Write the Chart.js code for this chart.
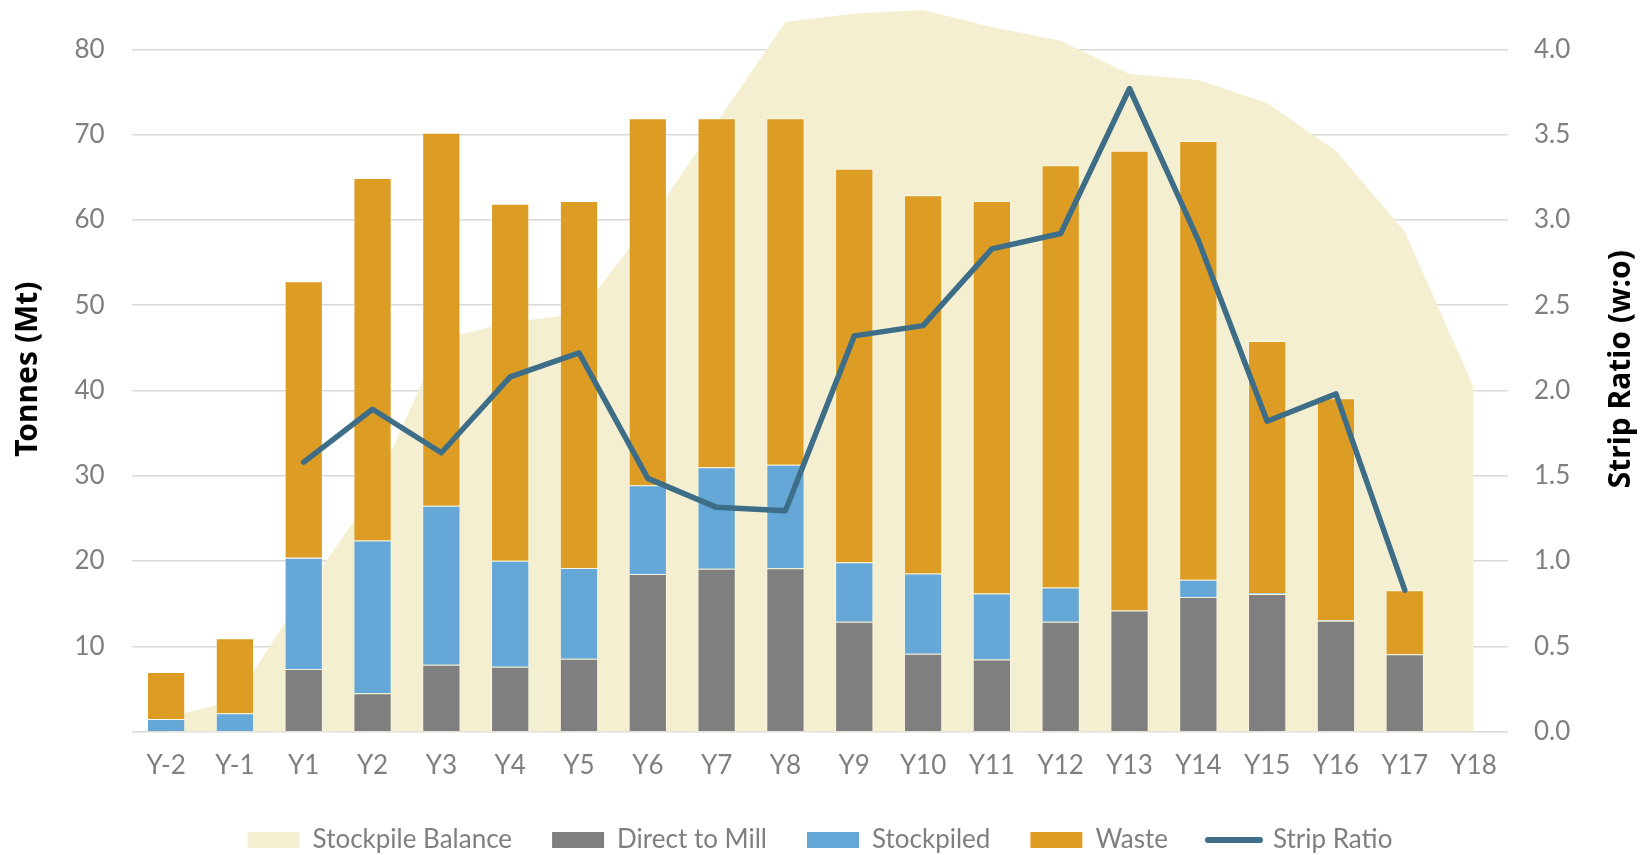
<!DOCTYPE html>
<html>
<head>
<meta charset="utf-8">
<title>Mine schedule</title>
<script src="https://cdn.jsdelivr.net/npm/chart.js@4.4.1/dist/chart.umd.min.js"></script>
<style>
  html, body { margin: 0; padding: 0; background: #fff; }
  #wrap { width: 1640px; height: 855px; position: relative; }
</style>
</head>
<body>
<div id="wrap"><canvas id="chart_wrap"></canvas></div>
<script>
const years = ['Y-2', 'Y-1', 'Y1', 'Y2', 'Y3', 'Y4', 'Y5', 'Y6', 'Y7', 'Y8', 'Y9',
  'Y10', 'Y11', 'Y12', 'Y13', 'Y14', 'Y15', 'Y16', 'Y17', 'Y18'];

// tonnes (Mt)
const stockpileBalance = [1.6, 3.7, 16.2, 27.9, 46.0, 48.0, 49.0, 59.5, 71.4, 83.2, 84.2,
  84.6, 82.6, 81.0, 77.1, 76.4, 73.7, 68.1, 58.6, 40.4];
const directToMill = [0, 0, 7.35, 4.5, 7.85, 7.6, 8.55, 18.5, 19.1, 19.15, 12.9,
  9.15, 8.45, 12.9, 14.2, 15.8, 16.15, 13.0, 9.07, null];
const stockpiled = [1.49, 2.15, 13.05, 17.9, 18.65, 12.45, 10.65, 10.4, 11.9, 12.15, 6.95,
  9.4, 7.75, 4.0, 0, 2.0, 0.1, 0.1, 0, null];
const waste = [5.5, 8.8, 32.4, 42.5, 43.7, 41.85, 43.0, 43.0, 40.9, 40.6, 46.15,
  44.35, 46.0, 49.5, 53.9, 51.45, 29.55, 26.0, 7.5, null];

// strip ratio (w:o)
const stripRatio = [null, null, 1.58, 1.89, 1.635, 2.08, 2.22, 1.485, 1.315, 1.295, 2.32,
  2.38, 2.83, 2.92, 3.77, 2.88, 1.82, 1.98, 0.83, null];

const leftTicks = [0, 10, 20, 30, 40, 50, 60, 70, 80];
const rightTicks = [0, 0.5, 1, 1.5, 2, 2.5, 3, 3.5, 4];

const grey = '#7f7f7f';
const titleFont = '"Noto Sans", "Open Sans", sans-serif';
Chart.defaults.font.family = 'Lato, "Open Sans", sans-serif';
Chart.defaults.color = grey;

// right title reads bottom-to-top in the original, chart.js rotates it the other way
const rightTitle = {
  id: 'rightTitle',
  afterDraw(chart) {
    const ctx = chart.ctx;
    ctx.save();
    ctx.translate(1621, (chart.chartArea.top + chart.chartArea.bottom) / 2);
    ctx.rotate(-Math.PI / 2);
    ctx.font = 'bold 30px ' + titleFont;
    ctx.fillStyle = '#000';
    ctx.textAlign = 'center';
    ctx.textBaseline = 'middle';
    ctx.fillText('Strip Ratio (w:o)', 0, 0);
    ctx.restore();
  }
};

const barBorder = 'rgba(255,255,255,0.35)';

const ctx = document.getElementById('chart_wrap').getContext('2d');
window.myChart = new Chart(ctx, {
  type: 'bar',
  data: {
    labels: years,
    datasets: [
      {
        type: 'line',
        label: 'Stockpile Balance',
        data: stockpileBalance,
        backgroundColor: '#f5efd2',
        borderWidth: 0,
        pointRadius: 0,
        fill: 'origin',
        stack: 'balance',
        yAxisID: 'y',
        order: 3,
      },
      {
        label: 'Direct to Mill',
        data: directToMill,
        backgroundColor: '#7f7f7f',
        borderColor: barBorder,
        borderWidth: 1,
        stack: 'mined',
        order: 2,
      },
      {
        label: 'Stockpiled',
        data: stockpiled,
        backgroundColor: '#65a8d7',
        borderColor: barBorder,
        borderWidth: 1,
        stack: 'mined',
        order: 2,
      },
      {
        label: 'Waste',
        data: waste,
        backgroundColor: '#dd9c24',
        borderColor: barBorder,
        borderWidth: 1,
        stack: 'mined',
        order: 2,
      },
      {
        type: 'line',
        label: 'Strip Ratio',
        data: stripRatio,
        borderColor: '#3e6e87',
        backgroundColor: '#3e6e87',
        borderWidth: 5.5,
        borderCapStyle: 'round',
        borderJoinStyle: 'round',
        pointRadius: 0,
        fill: false,
        yAxisID: 'y1',
        order: 1,
      },
    ],
  },
  options: {
    responsive: true,
    maintainAspectRatio: false,
    animation: false,
    layout: { padding: { top: 6.6, bottom: -8, left: 0, right: 0 } },
    datasets: {
      bar: { categoryPercentage: 1, barPercentage: 0.556 },
    },
    plugins: {
      tooltip: { enabled: false },
      legend: {
        position: 'bottom',
        labels: {
          usePointStyle: true,
          pointStyleWidth: 52,
          boxHeight: 16,
          padding: 40,
          color: grey,
          font: { size: 26 },
          sort: (a, b) => a.datasetIndex - b.datasetIndex,
          generateLabels(chart) {
            const items = Chart.defaults.plugins.legend.labels.generateLabels(chart);
            items.forEach(item => {
              if (item.text === 'Strip Ratio') {
                item.pointStyle = 'line';
                item.lineWidth = 6;
                item.lineCap = 'round';
              } else {
                item.pointStyle = 'rect';
                item.lineWidth = 0;
              }
            });
            return items;
          },
        },
      },
    },
    scales: {
      x: {
        type: 'category',
        stacked: true,
        grid: { display: false },
        border: { display: false },
        ticks: { padding: 10, font: { size: 26 }, color: grey },
        afterFit(scale) { scale.height = 55.3; },
      },
      y: {
        position: 'left',
        stacked: true,
        min: 0,
        max: 85,
        ticks: {
          stepSize: 10,
          padding: 27,
          font: { size: 26 },
          color: grey,
          callback: v => (v === 0 ? '' : v),
        },
        grid: { color: '#d9d9d9', lineWidth: 1.5, drawTicks: false },
        border: { display: false },
        title: {
          display: true,
          text: 'Tonnes (Mt)',
          color: '#000',
          font: { size: 30, weight: 'bold', family: titleFont },
          padding: { top: 10, bottom: 0 },
        },
        afterBuildTicks(scale) {
          scale.ticks = leftTicks.map(v => ({ value: v }));
        },
        afterFit(scale) {
          scale.width = 131.7;
          scale.paddingTop = 0;
          scale.paddingBottom = 0;
        },
      },
      y1: {
        position: 'right',
        min: 0,
        max: 4.25,
        ticks: {
          stepSize: 0.5,
          padding: 26,
          font: { size: 26 },
          color: grey,
          callback: v => Number(v).toFixed(1),
        },
        grid: { display: false, drawTicks: false },
        border: { display: false },
        afterBuildTicks(scale) {
          scale.ticks = rightTicks.map(v => ({ value: v }));
        },
        afterFit(scale) {
          scale.width = 132;
          scale.paddingTop = 0;
          scale.paddingBottom = 0;
        },
      },
    },
  },
  plugins: [rightTitle],
});
</script>
</body>
</html>
